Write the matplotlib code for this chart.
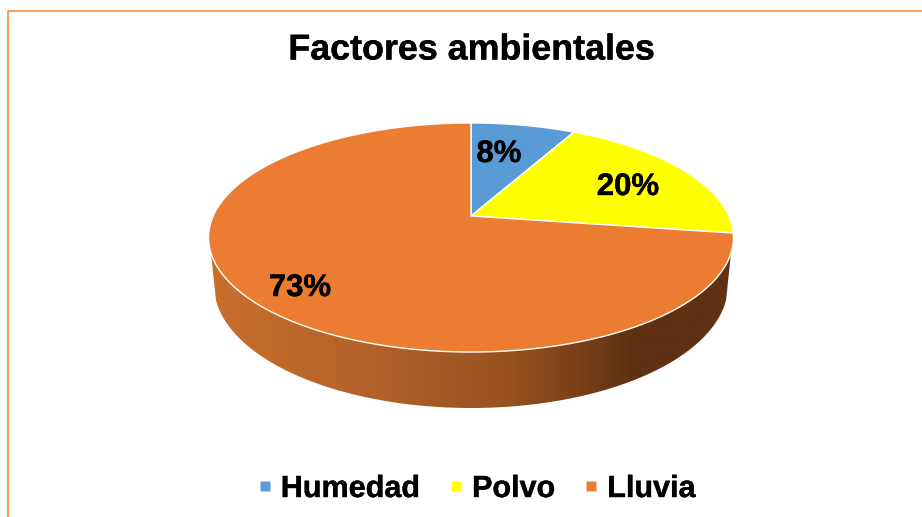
import numpy as np
import matplotlib
matplotlib.use("Agg")
import matplotlib.pyplot as plt
import matplotlib.patheffects as pe
from matplotlib.colors import LinearSegmentedColormap
from matplotlib.lines import Line2D
from matplotlib.patches import Polygon

plt.rcParams['font.family'] = ['Liberation Sans', 'DejaVu Sans']

title = "Factores ambientales"
categories = ["Humedad", "Polvo", "Lluvia"]
values = [7.7, 19.7, 72.6]
colors = ["#5B9BD5", "#FFFF00", "#EB7C31"]

# pie seen in perspective: the apex is not in the middle of the ellipse
apex_x, apex_y = 471, 216
semi_x, semi_y, tilt = 257.8, 110.5, 0.1877
# lower rim of the side wall
low_x, low_y, low_a, low_b = 471, 285, 257, 123

# a bit heavier than plain Liberation bold
heavy = [pe.withStroke(linewidth=0.3, foreground="black")]


def top_rim(deg, r=1.0):
    t = np.radians(deg)
    w = 1 + tilt * r * np.cos(t)
    return apex_x + semi_x * r * np.sin(t) / w, apex_y - semi_y * r * np.cos(t) / w


def low_rim(deg):
    t = np.radians(deg)
    return low_x + low_a * np.sin(t), low_y - low_b * np.cos(t)


fig = plt.figure(figsize=(9.22, 5.17), dpi=100)
ax = fig.add_axes([0, 0, 1, 1])
ax.set_xlim(0, 922)
ax.set_ylim(517, 0)
ax.axis("off")

# frame, only left and top are in the picture
ax.plot([8, 8, 930], [525, 10.5, 10.5], color="#F98B3E", lw=1.2, zorder=1)

# side wall with horizontal gradient
t_top = np.linspace(108.4, 251.6, 200)
t_low = np.linspace(97, 263, 200)
xt, yt = top_rim(t_top)
xl, yl = low_rim(t_low)
wall = Polygon(np.column_stack([np.r_[xt, xl[::-1]], np.r_[yt, yl[::-1]]]),
               closed=True, fc="none", ec="none", transform=ax.transData)
ax.add_patch(wall)
wall_cmap = LinearSegmentedColormap.from_list(
    "wall", [(0, "#C8702D"), (0.30, "#B4622A"), (0.55, "#9A5320"),
             (0.70, "#7A4018"), (0.80, "#5F3112"), (1, "#5F3112")])
img = ax.imshow(np.linspace(0, 1, 400).reshape(1, -1), cmap=wall_cmap, aspect="auto",
                extent=(205, 740, 420, 230), zorder=2)
img.set_clip_path(wall)
ax.set_xlim(0, 922)
ax.set_ylim(517, 0)

# top face, 12 o'clock and clockwise
start = 0
for v, c in zip(values, colors):
    end = start + v * 3.6
    tt = np.linspace(start, end, 200)
    x, y = top_rim(tt)
    pts = np.column_stack([np.r_[apex_x, x], np.r_[apex_y, y]])
    ax.add_patch(Polygon(pts, closed=True, fc=c, ec="white", lw=1.0, zorder=3))
    start = end

# data labels
label_xy = [(499, 154), (628, 187), (300, 288)]
for v, (lx, ly) in zip(values, label_xy):
    ax.text(lx, ly, f"{v:.0f}%", fontsize=22.4, fontweight="bold", color="black",
            ha="center", va="center", zorder=5, path_effects=heavy)

ax.text(471.5, 50, title, fontsize=25.8, fontweight="bold", color="black",
        ha="center", va="center", zorder=5, path_effects=heavy)

handles = [Line2D([], [], ls="none", marker="s", ms=7.6, mfc=c, mec="none") for c in colors]
leg = ax.legend(handles, categories, loc="center", bbox_to_anchor=(475.5 / 922, 1 - 489 / 517),
                ncol=3, frameon=False, prop={"size": 22, "weight": "bold"},
                handlelength=0.6, handletextpad=0.22, columnspacing=0.885)
for txt in leg.get_texts():
    txt.set_path_effects(heavy)

fig.savefig("out.png", dpi=100)
